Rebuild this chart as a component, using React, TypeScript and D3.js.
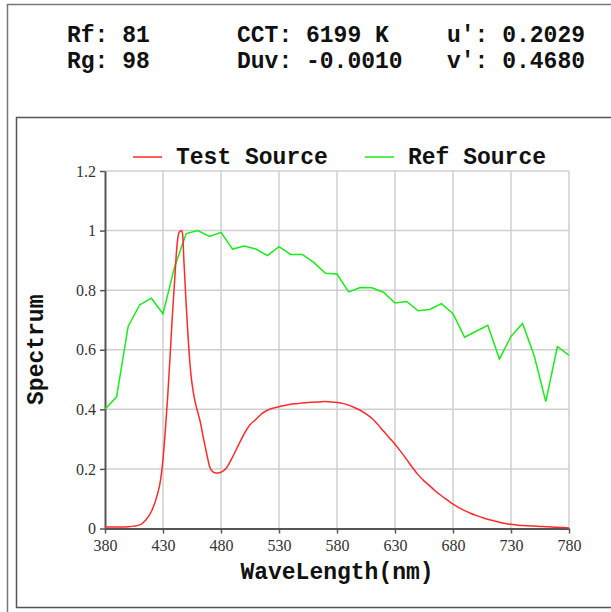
import React, { useEffect, useRef } from "react";
import * as d3 from "d3";

// header readouts, one array per row
const headerRow1 = ["Rf: 81", "CCT: 6199 K", "u': 0.2029"];
const headerRow2 = ["Rg: 98", "Duv: -0.0010", "v': 0.4680"];

const seriesNames = ["Test Source", "Ref Source"];
const seriesColors = ["#ff2a2a", "#19ec19"];

const xTicks = [380, 430, 480, 530, 580, 630, 680, 730, 780];
const yTicks = [0, 0.2, 0.4, 0.6, 0.8, 1, 1.2];

// Ref Source, sampled every 10 nm
const refWavelengths = [
  380, 390, 400, 410, 420, 430, 440, 450, 460, 470, 480, 490, 500, 510, 520,
  530, 540, 550, 560, 570, 580, 590, 600, 610, 620, 630, 640, 650, 660, 670,
  680, 690, 700, 710, 720, 730, 740, 750, 760, 770, 780,
];
const refValues = [
  0.4, 0.442, 0.679, 0.751, 0.773, 0.721, 0.878, 0.99, 1.0, 0.98, 0.994,
  0.938, 0.948, 0.938, 0.916, 0.946, 0.92, 0.92, 0.893, 0.857, 0.854, 0.794,
  0.809, 0.808, 0.793, 0.757, 0.762, 0.731, 0.735, 0.755, 0.721, 0.642, 0.662,
  0.682, 0.569, 0.645, 0.688, 0.58, 0.426, 0.611, 0.581,
];

// Test Source (denser around the blue peak)
const testWavelengths = [
  380, 385, 390, 395, 400, 405, 410, 415, 420, 425, 428, 430, 432, 434, 436,
  438, 440, 442, 444, 446, 447, 448, 450, 452, 454, 456, 458, 460, 462, 465,
  468, 470, 473, 476, 480, 485, 490, 495, 500, 505, 510, 515, 520, 525, 530,
  535, 540, 545, 550, 555, 560, 565, 570, 575, 580, 585, 590, 595, 600, 605,
  610, 615, 620, 625, 630, 635, 640, 645, 650, 655, 660, 665, 670, 675, 680,
  685, 690, 695, 700, 705, 710, 715, 720, 725, 730, 735, 740, 745, 750, 755,
  760, 765, 770, 775, 780,
];
const testValues = [
  0.006, 0.005, 0.005, 0.005, 0.006, 0.008, 0.012, 0.028, 0.057, 0.112, 0.165,
  0.232, 0.33, 0.44, 0.57, 0.71, 0.83, 0.947, 0.995, 1.0, 0.985, 0.9, 0.75,
  0.62, 0.52, 0.46, 0.42, 0.39, 0.36, 0.3, 0.245, 0.21, 0.19, 0.186, 0.189,
  0.205, 0.24, 0.28, 0.318, 0.348, 0.366, 0.385, 0.397, 0.404, 0.409, 0.413,
  0.417, 0.419, 0.421, 0.423, 0.424, 0.425, 0.426, 0.425, 0.423, 0.42, 0.414,
  0.406, 0.397, 0.385, 0.37, 0.35, 0.327, 0.305, 0.283, 0.258, 0.232, 0.205,
  0.18, 0.16, 0.143, 0.125, 0.11, 0.096, 0.082, 0.07, 0.06, 0.051, 0.044,
  0.037, 0.031, 0.026, 0.021, 0.017, 0.014, 0.012, 0.01, 0.009, 0.008, 0.007,
  0.006, 0.005, 0.004, 0.003, 0.002,
];

const xLabel = "WaveLength(nm)";
const yLabel = "Spectrum";

const MONO = "'Liberation Mono', 'Courier New', monospace";
const SERIF = "'Liberation Serif', 'DejaVu Serif', serif";

export default function App() {
  const svgRef = useRef<SVGSVGElement>(null);

  useEffect(() => {
    if (!svgRef.current) return;
    const svg = d3.select(svgRef.current);
    svg.selectAll("*").remove();

    const width = 611;
    const height = 612;

    svg.append("rect").attr("width", width).attr("height", height).attr("fill", "white");

    // outer and inner frames (they run off the right/bottom edge)
    svg
      .append("rect")
      .attr("x", 7.5)
      .attr("y", 4.5)
      .attr("width", 700)
      .attr("height", 700)
      .attr("fill", "none")
      .attr("stroke", "#777")
      .attr("stroke-width", 1.5);
    svg
      .append("rect")
      .attr("x", 16.5)
      .attr("y", 117.5)
      .attr("width", 700)
      .attr("height", 490)
      .attr("fill", "none")
      .attr("stroke", "#555")
      .attr("stroke-width", 1.5);

    // header readouts
    const colX = [67, 237, 447];
    [headerRow1, headerRow2].forEach((row, ri) => {
      row.forEach((txt, ci) => {
        svg
          .append("text")
          .attr("x", colX[ci])
          .attr("y", 42 + ri * 26)
          .attr("font-family", MONO)
          .attr("font-weight", "bold")
          .attr("font-size", 23)
          .attr("fill", "#111")
          .style("white-space", "pre")
          .text(txt);
      });
    });

    const plot = { left: 105, right: 569, top: 171, bottom: 528.5 };

    const x = d3.scaleLinear().domain([380, 780]).range([plot.left, plot.right]);
    const y = d3.scaleLinear().domain([0, 1.2]).range([plot.bottom, plot.top]);

    // grid
    const grid = svg.append("g").attr("stroke", "#cfcfcf").attr("stroke-width", 1.5);
    grid
      .selectAll("line.vx")
      .data(xTicks.slice(1))
      .join("line")
      .attr("x1", (d) => x(d))
      .attr("x2", (d) => x(d))
      .attr("y1", plot.top)
      .attr("y2", plot.bottom);
    grid
      .selectAll("line.hy")
      .data(yTicks.slice(1))
      .join("line")
      .attr("x1", plot.left)
      .attr("x2", plot.right)
      .attr("y1", (d) => y(d))
      .attr("y2", (d) => y(d));

    // axes
    const xAxis = svg
      .append("g")
      .attr("transform", `translate(0,${plot.bottom})`)
      .call(
        d3
          .axisBottom(x)
          .tickValues(xTicks)
          .tickSize(5)
          .tickSizeOuter(0)
          .tickPadding(6)
          .tickFormat((d) => String(d))
      );
    const yAxis = svg
      .append("g")
      .attr("transform", `translate(${plot.left},0)`)
      .call(
        d3
          .axisLeft(y)
          .tickValues(yTicks)
          .tickSize(5)
          .tickSizeOuter(0)
          .tickPadding(4)
          .tickFormat((d) => String(+d))
      );
    [xAxis, yAxis].forEach((ax) => {
      ax.select(".domain").attr("stroke", "#555").attr("stroke-width", 2);
      ax.selectAll(".tick line").attr("stroke", "#555").attr("stroke-width", 1.5);
      ax.selectAll(".tick text")
        .attr("font-family", SERIF)
        .attr("font-size", 16)
        .attr("fill", "#333");
    });

    // series
    const testLine = d3
      .line<number>()
      .x((_, i) => x(testWavelengths[i]))
      .y((d) => y(d))
      .curve(d3.curveMonotoneX);
    const refLine = d3
      .line<number>()
      .x((_, i) => x(refWavelengths[i]))
      .y((d) => y(d));

    svg
      .append("path")
      .datum(refValues)
      .attr("fill", "none")
      .attr("stroke", seriesColors[1])
      .attr("stroke-width", 1.5)
      .attr("d", refLine);
    svg
      .append("path")
      .datum(testValues)
      .attr("fill", "none")
      .attr("stroke", seriesColors[0])
      .attr("stroke-width", 1.5)
      .attr("d", testLine);

    // legend
    const legendX = [133, 365];
    seriesNames.forEach((name, i) => {
      const g = svg.append("g").attr("transform", `translate(${legendX[i]},157)`);
      g.append("line")
        .attr("x1", 0)
        .attr("x2", 29)
        .attr("stroke", seriesColors[i])
        .attr("stroke-width", 1.5);
      g.append("text")
        .attr("x", 43)
        .attr("y", 7)
        .attr("font-family", MONO)
        .attr("font-weight", "bold")
        .attr("font-size", 23)
        .attr("fill", "#111")
        .text(name);
    });

    // axis titles
    svg
      .append("text")
      .attr("x", (plot.left + plot.right) / 2)
      .attr("y", 579)
      .attr("text-anchor", "middle")
      .attr("font-family", MONO)
      .attr("font-weight", "bold")
      .attr("font-size", 23)
      .attr("fill", "#111")
      .text(xLabel);
    svg
      .append("text")
      .attr("transform", `translate(43,${(plot.top + plot.bottom) / 2}) rotate(-90)`)
      .attr("text-anchor", "middle")
      .attr("font-family", MONO)
      .attr("font-weight", "bold")
      .attr("font-size", 23)
      .attr("fill", "#111")
      .text(yLabel);
  }, []);

  return (
    <svg
      ref={svgRef}
      width={611}
      height={612}
      style={{ position: "absolute", left: 0, top: 0, display: "block" }}
    />
  );
}
